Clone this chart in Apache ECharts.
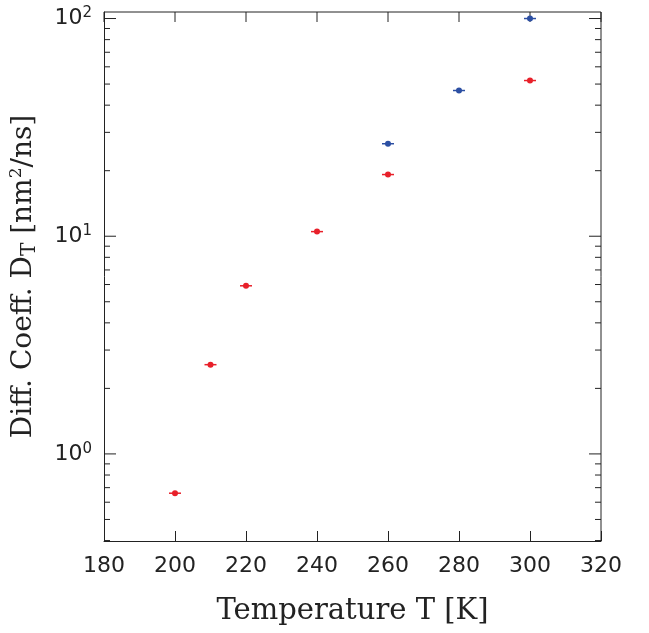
<!DOCTYPE html>
<html><head><meta charset="utf-8">
<script src="https://cdn.jsdelivr.net/npm/echarts@6/dist/echarts.min.js"></script>
<style>html,body{margin:0;background:#fff}#c{width:649px;height:633px}</style>
</head><body><div id="c"></div>
<script>
var redT = [200, 210, 220, 240, 260, 300];
var redD = [0.66, 2.57, 5.92, 10.5, 19.2, 51.9];
var blueT = [260, 280, 300];
var blueD = [26.6, 46.7, 100];
var xTicks = [180, 200, 220, 240, 260, 280, 300, 320];
var decades = [-1, 0, 1, 2];

var lg = function (v) { return Math.log10(v) };
var pts = function (t, d) {
  var o = [];
  for (var i = 0; i < t.length; i++) o.push([t[i], lg(d[i])]);
  return o
};
// log tick positions (major at decades, minor at 2..9)
var tickData = [];
decades.forEach(function (d) {
  for (var k = 1; k <= 9; k++) {
    var v = d + Math.log10(k);
    if (v >= -0.4 && v <= 2.03) tickData.push([v, k === 1 ? 1 : 0]);
  }
});

var marker = function (color) {
  return function (params, api) {
    var p = api.coord([api.value(0), api.value(1)]);
    return {
      type: "group",
      children: [
        { type: "line", shape: { x1: p[0] - 6, y1: p[1], x2: p[0] + 6, y2: p[1] }, style: { stroke: color, lineWidth: 1.5 } },
        { type: "circle", shape: { cx: p[0], cy: p[1], r: 3 }, style: { fill: color } }
      ]
    }
  }
};

var chart = echarts.init(document.getElementById("c"));
chart.setOption({
  animation: false,
  grid: { left: 97, right: 48, top: 12, bottom: 92 },
  xAxis: {
    type: "value", min: 180, max: 320, interval: 20,
    name: "Temperature T [K]", nameLocation: "middle", nameGap: 56,
    nameTextStyle: { fontFamily: "DejaVu Serif", fontSize: 29, color: "#222" },
    axisLine: { onZero: false, lineStyle: { color: "#222", width: 1 } },
    axisTick: { inside: true, length: 10, lineStyle: { color: "#222" } },
    axisLabel: { fontFamily: "DejaVu Sans", fontSize: 22, color: "#222", margin: 14 },
    splitLine: { show: false }
  },
  yAxis: {
    type: "value", min: -0.4, max: 2.03, interval: 0.1,
    name: "{a|Diff. Coeff. D}{s|T}{a| [nm}{p|2}{a|/ns]}", nameLocation: "middle", nameGap: 64,
    nameTextStyle: {
      rich: {
        a: { fontFamily: "DejaVu Serif", fontSize: 28, color: "#222" },
        s: { fontFamily: "DejaVu Serif", fontSize: 20, color: "#222", verticalAlign: "bottom", padding: [12, 0, 0, 0] },
        p: { fontFamily: "DejaVu Serif", fontSize: 17, color: "#222", verticalAlign: "top", padding: [0, 0, 12, 0] }
      }
    },
    axisLine: { lineStyle: { color: "#222" } },
    axisTick: { show: false },
    axisLabel: {
      fontFamily: "DejaVu Sans", color: "#222", margin: 12,
      formatter: function (v) {
        if (Math.abs(v - Math.round(v)) < 1e-6) return "{b|10}{e|" + Math.round(v) + "}";
        return "";
      },
      rich: { b: { fontSize: 22, fontFamily: "DejaVu Sans", color: "#222" }, e: { fontSize: 15, fontFamily: "DejaVu Sans", color: "#222", verticalAlign: "top", padding: [0, 0, 10, 0] } }
    },
    splitLine: { show: false }
  },
  series: [
    {
      type: "custom", silent: true, data: tickData,
      renderItem: function (params, api) {
        var v = api.value(0), len = api.value(1) ? 12 : 6;
        var a = api.coord([180, v]), b = api.coord([320, v]);
        var st = { stroke: "#222", lineWidth: 1 };
        return { type: "group", children: [
          { type: "line", shape: { x1: a[0], y1: a[1], x2: a[0] + len, y2: a[1] }, style: st },
          { type: "line", shape: { x1: b[0], y1: b[1], x2: b[0] - len, y2: b[1] }, style: st }
        ] }
      }
    },
    {
      type: "custom", silent: true, data: xTicks.map(function (t) { return [t] }),
      renderItem: function (params, api) {
        var p = api.coord([api.value(0), 2.03]);
        return { type: "line", shape: { x1: p[0], y1: p[1], x2: p[0], y2: p[1] + 10 }, style: { stroke: "#222", lineWidth: 1 } }
      }
    },
    {
      type: "custom", silent: true, data: [[180, 2.03], [320, 2.03]],
      renderItem: function (params, api) {
        if (params.dataIndex) return;
        var a = api.coord([180, 2.03]), b = api.coord([320, 2.03]), c = api.coord([320, -0.4]);
        return { type: "polyline", shape: { points: [a, b, c] }, style: { stroke: "#222", fill: null, lineWidth: 1 } }
      }
    },
    { type: "custom", data: pts(redT, redD), renderItem: marker("#e8202a") },
    { type: "custom", data: pts(blueT, blueD), renderItem: marker("#2c4fa3") }
  ]
});
</script></body></html>
